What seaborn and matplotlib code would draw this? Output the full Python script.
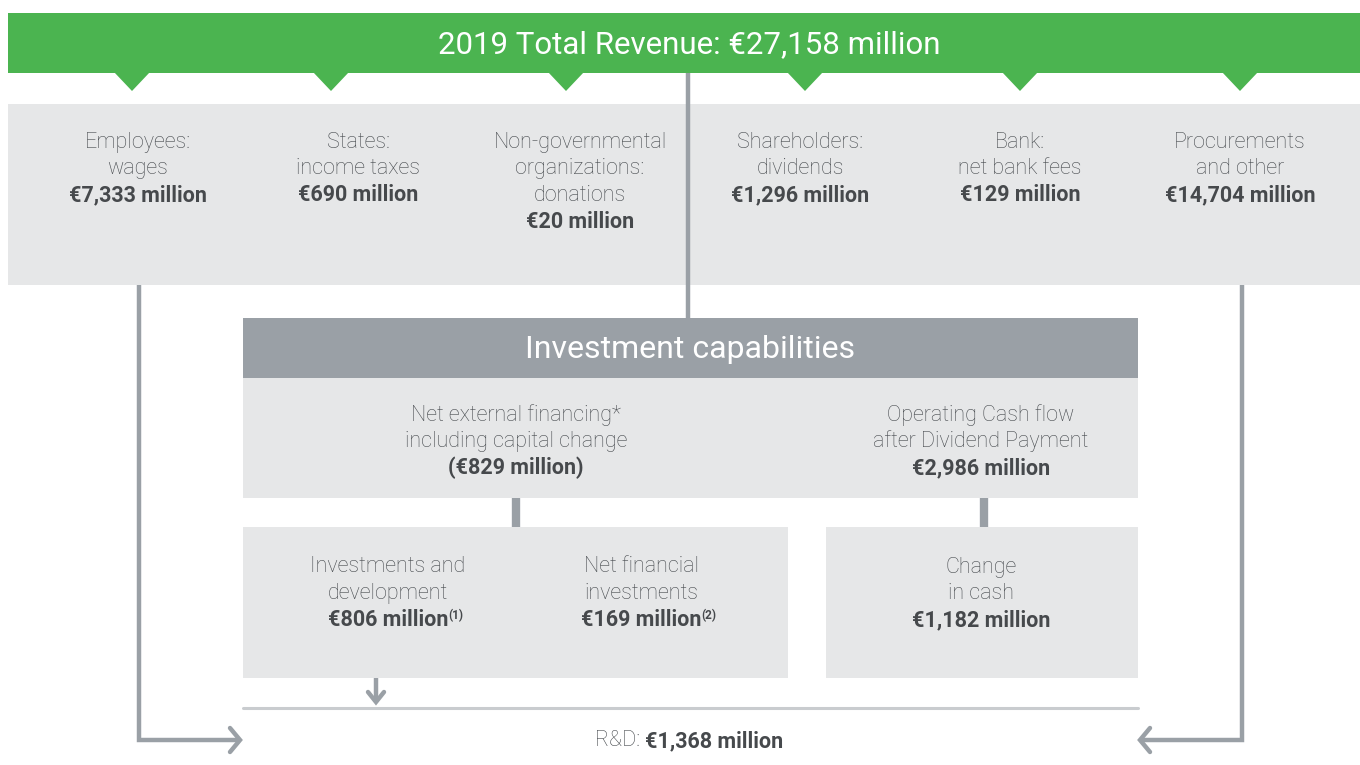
import matplotlib
matplotlib.use("Agg")
import matplotlib.pyplot as plt
import seaborn as sns
from matplotlib.patches import Rectangle, Polygon

sns.set_theme(style="white")
plt.rcParams['font.family'] = ['Roboto', 'DejaVu Sans']

# ---- data ----
total_title = "2019 Total Revenue: €27,158 million"
stakeholder_labels = ["Employees:\nwages", "States:\nincome taxes",
                      "Non-governmental\norganizations:\ndonations",
                      "Shareholders:\ndividends", "Bank:\nnet bank fees",
                      "Procurements\nand other"]
stakeholder_values = ["€7,333 million", "€690 million", "€20 million",
                      "€1,296 million", "€129 million", "€14,704 million"]
invest_title = "Investment capabilities"
source_labels = ["Net external financing*\nincluding capital change",
                 "Operating Cash flow\nafter Dividend Payment"]
source_values = ["(€829 million)", "€2,986 million"]
use_labels = ["Investments and\ndevelopment", "Net financial\ninvestments",
              "Change\nin cash"]
use_values = ["€806 million", "€169 million", "€1,182 million"]
use_notes = ["(1)", "(2)", ""]
rd_label = "R&D: "
rd_value = "€1,368 million"

GREEN = "#4BB450"
LIGHT = "#E6E7E8"
MID = "#9AA0A6"
TXT = "#45494D"
BOLD = "#46494C"
LINE = "#C9CCCF"

fig = plt.figure(figsize=(13.6, 7.65), dpi=100)
ax = fig.add_axes([0, 0, 1, 1])
ax.set_xlim(0, 1360)
ax.set_ylim(765, 0)
ax.axis("off")

LS = 26.5
FS = 15.5
FSB = 15.5

def block(x, y, label, value):
    lines = label.split("\n")
    for i, ln in enumerate(lines):
        ax.text(x, y + i * LS, ln, ha="center", va="center", fontsize=FS,
                color=TXT, fontweight="light")
    t = ax.text(x, y + len(lines) * LS, value, ha="center", va="center",
                fontsize=FSB, color=BOLD, fontweight="bold")
    return t

# green banner
ax.add_patch(Rectangle((8, 13), 1352, 60, color=GREEN, lw=0))
ax.text(689, 45, total_title, ha="center", va="center", fontsize=22.5,
        color="white", fontweight="normal")
tri_x = [132, 331, 566, 805, 1020, 1240]
for tx in tri_x:
    ax.add_patch(Polygon([(tx - 18, 72), (tx + 18, 72), (tx, 91)],
                         closed=True, color=GREEN, lw=0))

# stakeholder box
ax.add_patch(Rectangle((8, 104), 1352, 181, color=LIGHT, lw=0))
col_x = [138, 358, 580, 800, 1020, 1240]
for cx, lab, val in zip(col_x, stakeholder_labels, stakeholder_values):
    block(cx, 142, lab, val)

# central connector
ax.plot([688, 688], [73, 318], color=MID, lw=3.2, solid_capstyle="butt")

# investment capabilities
ax.add_patch(Rectangle((243, 318), 895, 60, color=MID, lw=0))
ax.text(690, 349, invest_title, ha="center", va="center", fontsize=23,
        color="white", fontweight="normal")
ax.add_patch(Rectangle((243, 378), 895, 120, color=LIGHT, lw=0))
for cx, lab, val in zip([516, 981], source_labels, source_values):
    block(cx, 415, lab, val)

# connectors
ax.plot([516, 516], [498, 527], color=MID, lw=6, solid_capstyle="butt")
ax.plot([984, 984], [498, 527], color=MID, lw=6, solid_capstyle="butt")

# uses boxes
ax.add_patch(Rectangle((243, 527), 545, 151, color=LIGHT, lw=0))
ax.add_patch(Rectangle((826, 527), 312, 151, color=LIGHT, lw=0))
use_x = [388, 641, 981]
val_texts = []
for cx, lab, val in zip(use_x, use_labels, use_values):
    val_texts.append(block(cx, 567, lab, val))

# R&D line and text
ax.plot([243, 1138], [708, 708], color=LINE, lw=2.2)
ax.text(645, 741, rd_label, ha="right", va="center", fontsize=FS,
        color=TXT, fontweight="light")
ax.text(645, 741, rd_value, ha="left", va="center", fontsize=FSB,
        color=BOLD, fontweight="bold")

# down arrow
ax.plot([376, 376], [678, 702], color=MID, lw=3.2, solid_capstyle="butt")
ax.plot([368, 376, 384], [692, 702, 692], color=MID, lw=3.2,
        solid_joinstyle="miter")

# left return arrow
ax.plot([139, 139, 240], [285, 740, 740], color=MID, lw=3.2,
        solid_joinstyle="miter", solid_capstyle="butt")
ax.plot([230, 240, 230], [728, 740, 752], color=MID, lw=3.2,
        solid_joinstyle="miter")
# right return arrow
ax.plot([1242, 1242, 1140], [285, 740, 740], color=MID, lw=3.2,
        solid_joinstyle="miter", solid_capstyle="butt")
ax.plot([1150, 1140, 1150], [728, 740, 752], color=MID, lw=3.2,
        solid_joinstyle="miter")

# superscript footnotes
fig.canvas.draw()
renderer = fig.canvas.get_renderer()
inv = ax.transData.inverted()
for t, note in zip(val_texts, use_notes):
    if not note:
        continue
    bb = t.get_window_extent(renderer)
    x1, y1 = inv.transform((bb.x1, bb.y1))
    ax.text(x1 + 0.5, y1, note, ha="left", va="top", fontsize=8.5,
            color=BOLD, fontweight="bold")

fig.savefig("out.png", dpi=100)
